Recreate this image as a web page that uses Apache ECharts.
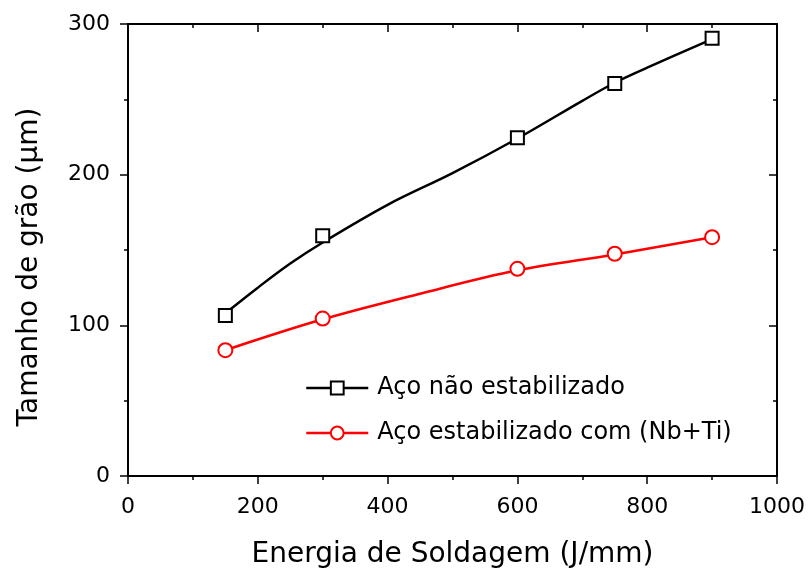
<!DOCTYPE html>
<html>
<head>
<meta charset="utf-8">
<script src="https://cdn.jsdelivr.net/npm/echarts@6/dist/echarts.min.js"></script>
<style>html,body{margin:0;padding:0;background:#fff}#c{width:808px;height:571px}</style>
</head>
<body>
<div id="c"></div>
<script>
// measured points
const energy = [150, 300, 600, 750, 900];
const naoEstab = [106.5, 159.5, 224.5, 260.5, 290.5];
const estabNbTi = [83.5, 104.5, 137.5, 147.5, 158.5];
// fitted curves
const naoFitX = [150, 200, 250, 300, 400, 500, 600, 700, 750, 800, 900];
const naoFitY = [108, 125, 141, 155, 180, 201, 224, 249, 261, 271, 290];
const estabFitX = [150, 300, 450, 600, 750, 900];
const estabFitY = [83.5, 104, 121, 136.5, 147, 158.5];
const seriesNames = ['Aço não estabilizado', 'Aço estabilizado com (Nb+Ti)'];
const xTitle = 'Energia de Soldagem (J/mm)';
const yTitle = 'Tamanho de grão (\u03bcm)';

const zip = (a, b) => a.map((v, i) => [v, b[i]]);
const FONT = 'DejaVu Sans';

const chart = echarts.init(document.getElementById('c'), null, {renderer: 'canvas'});
const axisCommon = {
  axisLine: {show: true, onZero: false, lineStyle: {color: '#000', width: 2}},
  splitLine: {show: false},
  minorTick: {show: true, splitNumber: 2, length: 4, lineStyle: {color: '#000', width: 1.5}},
};
chart.setOption({
  animation: false,
  backgroundColor: '#fff',
  grid: {left: 128, right: 31, top: 24, bottom: 95, containLabel: false, outerBoundsMode: 'none'},
  legend: {
    orient: 'vertical', left: 305, top: 376, itemGap: 21, padding: 0,
    itemWidth: 62, itemHeight: 16,
    textStyle: {fontFamily: FONT, fontSize: 24, color: '#000', padding: [0, 0, 0, 4]},
    data: [
      {name: seriesNames[0], lineStyle: {color: '#000', width: 2.5, opacity: 1}},
      {name: seriesNames[1], lineStyle: {color: '#ff0000', width: 2.5, opacity: 1}}
    ]
  },
  xAxis: [
    Object.assign({}, axisCommon, {
      type: 'value', min: 0, max: 1000, interval: 200, position: 'bottom',
      axisTick: {show: true, inside: false, length: 8, lineStyle: {color: '#000', width: 1.5}},
      axisLabel: {fontFamily: FONT, fontSize: 22, color: '#000', margin: 20, formatter: v => String(v)},
      name: xTitle, nameLocation: 'middle', nameGap: 65,
      nameTextStyle: {fontFamily: FONT, fontSize: 28, color: '#000'}
    }),
    Object.assign({}, axisCommon, {
      type: 'value', min: 0, max: 1000, interval: 200, position: 'top',
      axisTick: {show: true, inside: true, length: 8, lineStyle: {color: '#000', width: 1.5}},
      axisLabel: {show: false}
    })
  ],
  yAxis: [
    Object.assign({}, axisCommon, {
      type: 'value', min: 0, max: 300, interval: 100, position: 'left',
      axisTick: {show: true, inside: false, length: 8, lineStyle: {color: '#000', width: 1.5}},
      axisLabel: {fontFamily: FONT, fontSize: 22, color: '#000', margin: 18, formatter: v => String(v)},
      name: yTitle, nameLocation: 'middle', nameGap: 84,
      nameTextStyle: {fontFamily: FONT, fontSize: 28, color: '#000', padding: [0, 34, 0, 0]}
    }),
    Object.assign({}, axisCommon, {
      type: 'value', min: 0, max: 300, interval: 100, position: 'right',
      axisTick: {show: true, inside: true, length: 8, lineStyle: {color: '#000', width: 1.5}},
      axisLabel: {show: false}
    })
  ],
  series: [
    {
      name: 'fit1', type: 'line', smooth: 0.35, showSymbol: false, silent: true,
      data: zip(naoFitX, naoFitY), lineStyle: {color: '#000', width: 2.5}, z: 2
    },
    {
      name: 'fit2', type: 'line', smooth: 0.35, showSymbol: false, silent: true,
      data: zip(estabFitX, estabFitY), lineStyle: {color: '#ff0000', width: 2.5}, z: 2
    },
    {
      name: seriesNames[0], type: 'line', data: zip(energy, naoEstab),
      symbol: 'rect', symbolSize: 13, lineStyle: {width: 0, color: '#000'},
      itemStyle: {color: '#fff', borderColor: '#000', borderWidth: 2}, z: 5
    },
    {
      name: seriesNames[1], type: 'line', data: zip(energy, estabNbTi),
      symbol: 'circle', symbolSize: 14, lineStyle: {width: 0, color: '#ff0000'},
      itemStyle: {color: '#fff', borderColor: '#ff0000', borderWidth: 2}, z: 5
    }
  ]
});
</script>
</body>
</html>
